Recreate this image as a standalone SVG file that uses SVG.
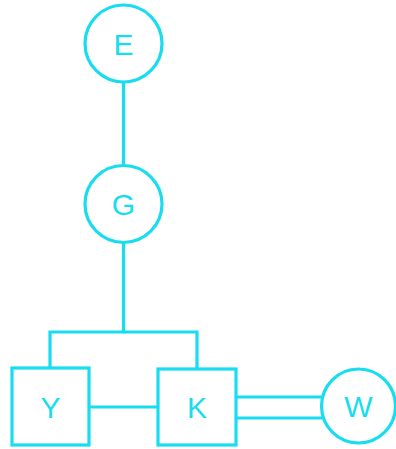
<svg xmlns="http://www.w3.org/2000/svg" width="396" height="449" viewBox="0 0 396 449">
<style>
.s{fill:#ffffff;stroke:#18dcf0;stroke-width:3.2}
.l{fill:none;stroke:#18dcf0;stroke-width:3.2}
.t{font-family:"Liberation Sans",Arial,sans-serif;font-size:30px;fill:#18dcf0;text-anchor:middle}
</style>
<rect width="396" height="449" fill="#ffffff"/>
<g id="connectors">
<line class="l" x1="123.5" y1="82" x2="123.5" y2="166"/>
<polyline class="l" points="123.5,243 123.5,332 50,332 50,368"/>
<polyline class="l" points="123.5,332 197,332 197,369"/>
<line class="l" x1="89" y1="407" x2="158" y2="407"/>
<line class="l" x1="236" y1="397" x2="322" y2="397"/>
<line class="l" x1="236" y1="418" x2="322" y2="418"/>
</g>
<g id="E"><circle class="s" cx="123.5" cy="43.5" r="38.5"/><text class="t" x="123.5" y="54.5">E</text></g>
<g id="G"><circle class="s" cx="123.5" cy="204" r="38.5"/><text class="t" x="123.5" y="215">G</text></g>
<g id="Y"><rect class="s" x="12" y="368" width="77" height="77"/><text class="t" x="50.5" y="418">Y</text></g>
<g id="K"><rect class="s" x="158" y="369" width="78" height="76"/><text class="t" x="197" y="418">K</text></g>
<g id="W"><circle class="s" cx="358.5" cy="406" r="37"/><text class="t" x="358.5" y="417">W</text></g>
</svg>
